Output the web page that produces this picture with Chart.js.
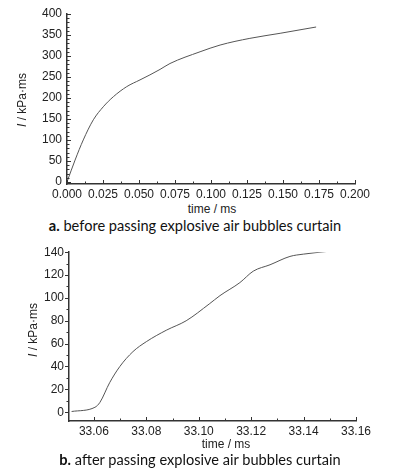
<!DOCTYPE html>
<html>
<head>
<meta charset="utf-8">
<script src="https://cdn.jsdelivr.net/npm/chart.js@4.4.0/dist/chart.umd.min.js"></script>
<style>
  body { margin: 0; background: #fff; width: 399px; height: 475px; position: relative; overflow: hidden; }
  .cv { position: absolute; left: 0; width: 399px; height: 200px; }
  .lbl { position: absolute; font-family: "Liberation Sans Narrow", "Liberation Sans", sans-serif; font-size: 12px; color: #222; white-space: nowrap; }
  .ytitle { transform: translate(-50%, -50%) rotate(-90deg); }
  .xtitle { transform: translate(-50%, -50%); }
  .cap { position: absolute; font-family: "Lato", "Open Sans", sans-serif; font-size: 14.6px; color: #111; white-space: nowrap; transform: translate(-50%, -50%); }
</style>
</head>
<body>
<div class="cv" style="top:0"><canvas id="chartA"></canvas></div>
<div class="cv" style="top:240px"><canvas id="chartB"></canvas></div>

<div class="lbl ytitle" style="left:22px; top:100px"><i>I</i> / kPa·ms</div>
<div class="lbl xtitle" style="left:212px; top:209px">time / ms</div>
<div class="cap" style="left:195px; top:225px"><b>a.</b> before passing explosive air bubbles curtain</div>

<div class="lbl ytitle" style="left:33px; top:330px"><i>I</i> / kPa·ms</div>
<div class="lbl xtitle" style="left:226px; top:444px">time / ms</div>
<div class="cap" style="left:200px; top:459px"><b>b.</b> after passing explosive air bubbles curtain</div>

<script>
// chart a: impulse before the bubble curtain
const timeA = [0, 0.0056, 0.0113, 0.0183, 0.0252, 0.0322, 0.0415, 0.0507, 0.0576, 0.0646, 0.0715, 0.0924, 0.1063, 0.127, 0.148, 0.173];
const impulseA = [0, 52, 100, 148, 179, 203, 227, 243, 255, 268, 282, 310, 326, 342, 354, 369];

// chart b: impulse after the bubble curtain
const timeB = [33.0515, 33.0604, 33.0623, 33.066, 33.0699, 33.0749, 33.08, 33.0876, 33.0952, 33.104, 33.1081, 33.1157, 33.1208, 33.1272, 33.1348, 33.1399, 33.1488];
const impulseB = [0.6, 4.3, 8.6, 25.8, 40, 53, 61.7, 71.7, 80, 94.7, 102, 113.4, 123.4, 129, 136.3, 138.3, 140.6];

const tickFont = { family: '"Liberation Sans Narrow", "Liberation Sans", sans-serif', size: 12 };
const axisColor = '#333';

// small tick marks drawn along the axes (major + minor), in or out
function tickPlugin(cfg) {
  return {
    id: 'ticks',
    afterDraw(chart) {
      const ctx = chart.ctx;
      const xs = chart.scales.x, ys = chart.scales.y;
      const area = chart.chartArea;
      ctx.save();
      ctx.strokeStyle = axisColor;
      ctx.lineWidth = 1;
      ctx.beginPath();
      for (let v = cfg.xMin; v <= cfg.xMax + 1e-9; v += cfg.xMinor) {
        const px = Math.round(xs.getPixelForValue(v)) + 0.5;
        if (px < area.left - 1 || px > area.right + 1) continue;
        const major = Math.abs(Math.round(v / cfg.xMajor) * cfg.xMajor - v) < 1e-7;
        const len = major ? 4 : 2.5;
        ctx.moveTo(px, area.bottom);
        ctx.lineTo(px, area.bottom - len);
      }
      for (let v = cfg.yMin; v <= cfg.yMax + 1e-9; v += cfg.yMinor) {
        const py = Math.round(ys.getPixelForValue(v)) + 0.5;
        if (py < area.top - 1 || py > area.bottom + 1) continue;
        const major = Math.abs(Math.round(v / cfg.yMajor) * cfg.yMajor - v) < 1e-7;
        const len = major ? 4 : 2.5;
        const dir = cfg.yOut ? -1 : 1;
        ctx.moveTo(area.left, py);
        ctx.lineTo(area.left + dir * len, py);
      }
      ctx.stroke();
      ctx.restore();
    }
  };
}

function makeChart(id, xs, ys, opt) {
  const ctx = document.getElementById(id).getContext('2d');
  return new Chart(ctx, {
    type: 'line',
    data: {
      datasets: [{
        data: xs.map((x, i) => ({ x: x, y: ys[i] })),
        borderColor: '#555',
        borderWidth: 1,
        pointRadius: 0,
        fill: false,
        cubicInterpolationMode: 'monotone'
      }]
    },
    options: {
      responsive: true,
      maintainAspectRatio: false,
      animation: false,
      layout: { padding: opt.padding },
      plugins: { legend: { display: false }, tooltip: { enabled: false } },
      scales: {
        x: {
          type: 'linear',
          min: opt.xMin,
          max: opt.xMax,
          afterFit: s => { s.height = opt.xHeight; },
          afterBuildTicks: s => { s.ticks = opt.xTicks.map(v => ({ value: v })); },
          grid: { drawOnChartArea: false, drawTicks: false },
          border: { color: axisColor, width: 1.5 },
          ticks: {
            font: tickFont, color: '#222', padding: 3, maxRotation: 0,
            callback: v => v.toFixed(opt.xDec)
          }
        },
        y: {
          type: 'linear',
          min: opt.yMin,
          max: opt.yMax,
          afterFit: s => { s.width = opt.yWidth; },
          afterBuildTicks: s => { s.ticks = opt.yTicks.map(v => ({ value: v })); },
          grid: { drawOnChartArea: false, drawTicks: false },
          border: { color: axisColor, width: 1.5 },
          ticks: { font: tickFont, color: '#222', padding: 5 }
        }
      }
    },
    plugins: [tickPlugin(opt.tk)]
  });
}

const xTicksA = [0, 0.025, 0.05, 0.075, 0.1, 0.125, 0.15, 0.175, 0.2];
const yTicksA = [0, 50, 100, 150, 200, 250, 300, 350, 400];
const xTicksB = [33.06, 33.08, 33.10, 33.12, 33.14, 33.16];
const yTicksB = [0, 20, 40, 60, 80, 100, 120, 140];

makeChart('chartA', timeA, impulseA, {
  padding: { top: 14, right: 44, left: 0, bottom: 0 },
  xMin: 0, xMax: 0.2, yMin: -5, yMax: 400,
  xHeight: 16, yWidth: 67, xDec: 3,
  xTicks: xTicksA, yTicks: yTicksA,
  tk: { xMin: 0, xMax: 0.2, xMinor: 0.0125, xMajor: 0.025, yMin: 0, yMax: 400, yMinor: 10, yMajor: 50, yOut: false }
});

makeChart('chartB', timeB, impulseB, {
  padding: { top: 9, right: 43, left: 0, bottom: 0 },
  xMin: 33.0505, xMax: 33.16, yMin: -7.7, yMax: 140,
  xHeight: 19, yWidth: 69, xDec: 2,
  xTicks: xTicksB, yTicks: yTicksB,
  tk: { xMin: 33.06, xMax: 33.16, xMinor: 0.01, xMajor: 0.02, yMin: 0, yMax: 140, yMinor: 10, yMajor: 20, yOut: true }
});
</script>
</body>
</html>
